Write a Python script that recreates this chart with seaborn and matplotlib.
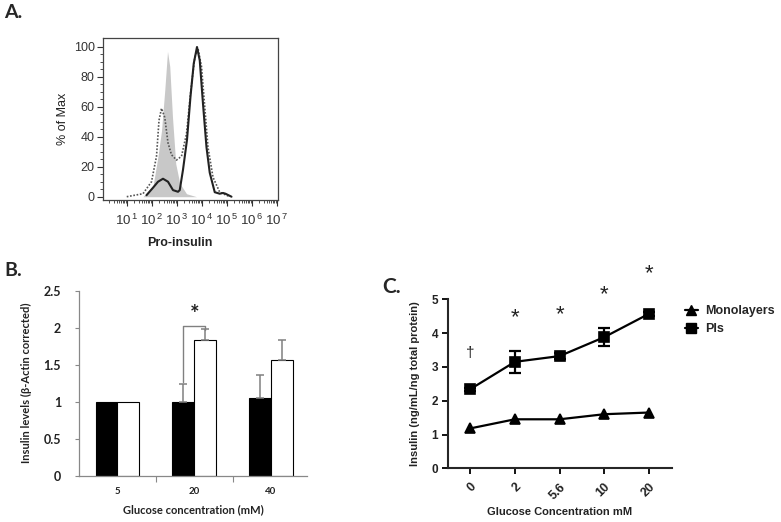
import numpy as np
import pandas as pd
import matplotlib
matplotlib.use("Agg")
import matplotlib.pyplot as plt
import seaborn as sns
from matplotlib.lines import Line2D
from matplotlib.ticker import FixedLocator

# ---------------- Panel A data (x in log10 decades, y in % of max) -------------
gray_decade = [1.65, 2.05, 2.25, 2.39, 2.52, 2.63, 2.72, 2.83, 2.96, 3.12, 3.39, 3.79]
gray_pct = [0, 7, 27, 44, 71, 97, 87, 53, 22, 9, 2, 0]

dotted_decade = [1.0, 1.65, 1.99, 2.19, 2.29, 2.39, 2.52, 2.65, 2.79, 2.99, 3.19, 3.39, 3.55,
                 3.72, 3.85, 3.99, 4.12, 4.25, 4.45, 4.72, 5.12]
dotted_pct = [0, 2, 10, 27, 51, 59, 53, 36, 28, 24.5, 27, 42, 69, 93, 99, 87, 60, 33, 13, 3, 0]

solid_decade = [1.79, 2.05, 2.25, 2.45, 2.65, 2.85, 3.05, 3.12, 3.25, 3.41, 3.55, 3.68, 3.81,
                3.92, 4.05, 4.19, 4.32, 4.52, 4.72, 4.85, 4.95, 5.19]
solid_pct = [1, 6, 10, 12, 10, 4.4, 3.3, 4.4, 18, 38, 67, 89, 100, 91, 62, 33, 16, 3, 2, 2.5,
             2, 0]

a_exponents = [1, 2, 3, 4, 5, 6, 7]
a_yticks = [0, 20, 40, 60, 80, 100]

# ---------------- Panel B data ----------------
b_conc = ["5", "20", "40"]
b_groups = ["black", "white"]
b_black = [1.0, 1.0, 1.05]
b_black_err = [0.0, 0.24, 0.31]
b_white = [1.0, 1.83, 1.56]
b_white_err = [0.0, 0.15, 0.27]
b_yticks = [0, 0.5, 1, 1.5, 2, 2.5]

# ---------------- Panel C data ----------------
c_conc = ["0", "2", "5.6", "10", "20"]
c_mono = [1.18, 1.45, 1.45, 1.60, 1.65]
c_pis = [2.34, 3.15, 3.32, 3.88, 4.57]
c_pis_err = [0.05, 0.33, 0.10, 0.26, 0.05]
c_marks = ["\u2020", "*", "*", "*", "*"]
c_mark_level = [3.4, 4.45, 4.55, 5.15, 5.75]

# ---------------- Style ----------------
sns.set_style("ticks")
plt.rcParams["font.family"] = ["Liberation Sans", "DejaVu Sans"]
plt.rcParams["mathtext.fontset"] = "custom"
plt.rcParams["mathtext.rm"] = "Liberation Sans"
plt.rcParams["mathtext.it"] = "Liberation Sans:italic"
plt.rcParams["mathtext.bf"] = "Liberation Sans:bold"
CAL = ["Lato", "DejaVu Sans"]

W, H = 781, 522
fig = plt.figure(figsize=(W / 100, H / 100), dpi=100)


def px_axes(l, t, r, b):
    return fig.add_axes([l / W, 1 - b / H, (r - l) / W, (b - t) / H])


# ================= Panel A =================
axA = px_axes(103, 38, 278, 200)
axA.fill_between(gray_decade, gray_pct, color="#c8c8c8", lw=0, zorder=1)
sns.lineplot(x=dotted_decade, y=dotted_pct, ax=axA, color="#555555", lw=1.2,
             linestyle=(0, (1, 1)), sort=False, zorder=2)
sns.lineplot(x=solid_decade, y=solid_pct, ax=axA, color="#222222", lw=1.5,
             sort=False, zorder=3)
axA.set_xlim(0.05, 7.05)
axA.set_ylim(-2.2, 106)
axA.set_xticks(a_exponents)
axA.set_xticklabels([f"$10^{{\\,{k}}}$" for k in a_exponents], fontsize=9.5, color="#333333")
minor_x = [np.log10(m) + d for d in range(0, 7) for m in range(2, 10)]
axA.xaxis.set_minor_locator(FixedLocator(minor_x))
axA.set_yticks(a_yticks)
axA.set_yticklabels([str(v) for v in a_yticks], fontsize=9, color="#333333")
axA.yaxis.set_minor_locator(FixedLocator(np.arange(0, 101, 5)))
axA.tick_params(axis="both", which="major", length=4, width=0.8, color="#333333", pad=2)
axA.tick_params(axis="x", which="major", pad=5)
axA.tick_params(axis="both", which="minor", length=2, width=0.6, color="#333333")
for s in axA.spines.values():
    s.set_color("#444444")
    s.set_linewidth(0.9)
axA.set_ylabel("% of Max", fontsize=9, color="#222222", labelpad=3)
axA.set_xlabel("Pro-insulin", fontsize=9, fontweight="bold", color="#222222")
axA.xaxis.set_label_coords(0.44, -0.23)
fig.text(4 / W, 1 - 13 / H, "A.", fontsize=14, fontweight="bold", va="center", family=CAL)

# ================= Panel B =================
axB = px_axes(79, 290.7, 307, 475.7)
dfB = pd.DataFrame({
    "conc": b_conc * 2,
    "group": [b_groups[0]] * 3 + [b_groups[1]] * 3,
    "value": b_black + b_white,
})
sns.barplot(data=dfB, x="conc", y="value", hue="group", palette=["black", "white"],
            edgecolor="black", linewidth=0.8, width=0.566, gap=0, errorbar=None,
            legend=False, ax=axB)
patches = list(axB.patches)
errs = b_black_err + b_white_err
centers = []
for p, e in zip(patches, errs):
    xc = p.get_x() + p.get_width() / 2
    hh = p.get_height()
    centers.append((xc, hh))
    if e > 0:
        axB.errorbar([xc], [hh], yerr=[[0], [e]], fmt="none", ecolor="#808080",
                     elinewidth=1.1, capsize=3, capthick=1.1, zorder=1)
# significance bracket at 20 mM
xb, hb = centers[1]
xw, hw = centers[4]
top = hw + b_white_err[1] + 0.04
axB.plot([xb, xb, xw, xw], [hb + b_black_err[1] + 0.03, top, top, hw + b_white_err[1] - 0.01],
         color="#808080", lw=1.0, clip_on=False)
axB.text((xb + xw) / 2, top + 0.02, "*", ha="center", va="bottom", fontsize=16,
         fontweight="bold", color="#222222", family=CAL)
axB.set_xlim(-0.5, 2.47)
axB.set_ylim(0, 2.5)
axB.set_yticks(b_yticks)
axB.set_yticklabels(["0", "0.5", "1", "1.5", "2", "2.5"], fontsize=9, fontweight="bold",
                    family=CAL, color="#222222")
axB.set_xticklabels(b_conc, fontsize=7, fontweight="bold", family=CAL, color="#222222")
axB.tick_params(axis="x", which="major", length=0, pad=8)
axB.xaxis.set_minor_locator(FixedLocator([0.5, 1.5]))
axB.tick_params(axis="x", which="minor", length=4, width=0.8, color="#888888")
axB.tick_params(axis="y", length=3, width=0.8, color="#888888", pad=10)
sns.despine(ax=axB)
for s in ["left", "bottom"]:
    axB.spines[s].set_color("#888888")
    axB.spines[s].set_linewidth(0.9)
axB.set_xlabel("Glucose concentration (mM)", fontsize=8, fontweight="bold",
               family=CAL, labelpad=6, color="#222222")
axB.set_ylabel("Insulin levels (\u03b2-Actin corrected)", fontsize=8, fontweight="bold",
               family=CAL, labelpad=8, color="#222222")
fig.text(4 / W, 1 - 271 / H, "B.", fontsize=14, fontweight="bold", va="center", family=CAL)

# ================= Panel C =================
axC = px_axes(448.3, 299.3, 671.7, 468.3)
dfC = pd.DataFrame({
    "conc": c_conc * 2,
    "series": ["Monolayers"] * 5 + ["PIs"] * 5,
    "value": c_mono + c_pis,
})
sns.pointplot(data=dfC, x="conc", y="value", hue="series", order=c_conc,
              palette=["black", "black"], markers=["^", "s"], linestyles=["-", "-"],
              errorbar=None, legend=False, ax=axC, markersize=7, linewidth=1.6)
axC.errorbar(np.arange(len(c_conc)), c_pis, yerr=c_pis_err, fmt="none", ecolor="black",
             elinewidth=1.6, capsize=4.2, capthick=1.6, zorder=5)
for i, (m, lv) in enumerate(zip(c_marks, c_mark_level)):
    axC.text(i, lv, m, ha="center", va="center", fontsize=16 if m == "*" else 11,
             color="#222222", clip_on=False)
axC.set_xlim(-0.49, 4.51)
axC.set_ylim(0, 5)
axC.set_yticks([0, 1, 2, 3, 4, 5])
axC.set_yticklabels(["0", "1", "2", "3", "4", "5"], fontsize=8.5, fontweight="bold",
                    color="#222222")
axC.set_xticks(range(len(c_conc)))
axC.set_xticklabels(c_conc, rotation=45, ha="right", rotation_mode="anchor", fontsize=9,
                    fontweight="bold", color="#222222")
axC.tick_params(axis="both", length=4, width=1.3, color="black")
axC.tick_params(axis="x", pad=5)
sns.despine(ax=axC)
for s in ["left", "bottom"]:
    axC.spines[s].set_linewidth(1.5)
axC.set_xlabel("Glucose Concentration mM", fontsize=8, fontweight="bold", labelpad=4,
               color="#222222")
axC.set_ylabel("Insulin (ng/mL/ng total protein)", fontsize=8, fontweight="bold",
               labelpad=8, color="#222222")
handles = [Line2D([0], [0], color="black", marker="^", ms=7, lw=1.6),
           Line2D([0], [0], color="black", marker="s", ms=7, lw=1.6)]
fig.legend(handles, ["Monolayers", "PIs"], loc="upper left",
           bbox_to_anchor=(680 / W, 1 - 300 / H), frameon=False, handlelength=1.0,
           handletextpad=0.6, labelspacing=0.5, borderaxespad=0,
           prop={"size": 9, "weight": "bold"})
fig.text(382 / W, 1 - 287 / H, "C.", fontsize=15, fontweight="bold", va="center", family=CAL)

fig.savefig("out.png", dpi=100, facecolor="white")
